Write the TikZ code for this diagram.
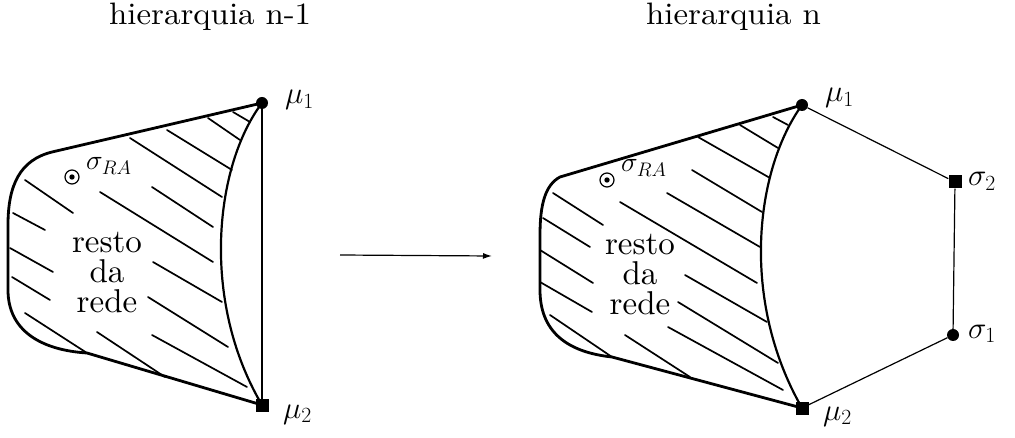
\RequirePackage{fix-cm}
\documentclass[tikz,border=0pt]{standalone}
\usepackage{graphicx}
\usetikzlibrary{arrows.meta}
% Latin Modern Roman at its 10pt design size, used at every size
\DeclareFontFamily{TU}{lmten}{}
\DeclareFontShape{TU}{lmten}{m}{n}{<-> \UnicodeFontFile{lmroman10-regular}{\UnicodeFontTeXLigatures}}{}
\newcommand\tenfont[2]{\fontfamily{lmten}\fontsize{#1}{#2}\selectfont}
\begin{document}
\begin{tikzpicture}[x=1pt,y=-1pt,
  outline/.style={line width=2.8pt,line join=round,line cap=round},
  hatch/.style={line width=1.7pt,line cap=round},
  edge/.style={line width=1.2pt},
  dotnode/.style={circle,fill=black,inner sep=0pt,minimum size=12pt},
  sqnode/.style={rectangle,fill=black,inner sep=0pt,minimum size=13pt},
  lbl/.style={inner sep=0pt,anchor=base west,font=\fontsize{31}{34}\selectfont},
  ralbl/.style={inner sep=0pt,anchor=base west,font=\fontsize{28}{30}\selectfont},
  body/.style={inner sep=0pt,anchor=base,font=\tenfont{33}{34}},
  title/.style={inner sep=0pt,anchor=base west,font=\tenfont{31}{34}},
  odot/.style={circle,draw,line width=1.2pt,minimum size=14pt,inner sep=0pt}]
\useasboundingbox (0,0) rectangle (1015,438);

% titles
\node[title] (t1) at (109,25) {\scalebox{1.06}[1]{hierarquia n-1}};
\node[title] (t2) at (646,25) {\scalebox{1.06}[1]{hierarquia n}};

% ---------- left network ----------
\coordinate (m1a) at (262,103);
\coordinate (m2a) at (262,405);
\draw[edge] (m1a) -- (m2a);
\draw[outline] (m1a) -- (52,152) .. controls (20,160) and (8,185) .. (8,225)
  -- (8,290) .. controls (8,330) and (40,350) .. (87,353) -- (m2a);
\draw[outline,line width=2.2pt] (m1a) .. controls (215,165) and (200,300) .. (m2a);
\foreach \xa/\ya/\xb/\yb in {233/112/250/122, 208/118/240/140, 167/130/232/170,
  130/138/222/197, 152/187/213/227, 100/192/213/262, 25/180/73/213,
  13/213/45/230, 10/248/53/272, 12/277/50/300, 153/262/222/302,
  148/297/228/347, 152/335/247/387, 97/332/165/377, 25/313/87/353}
  \draw[hatch] (\xa,\ya) -- (\xb,\yb);
\node[body] (ra1) at (107,253) {resto};
\node[body] (ra2) at (107,283) {da};
\node[body] (ra3) at (107,313) {rede};
\node[odot] (oa) at (72,177) {};
\fill (oa) circle (2.7pt);
\node[ralbl] (sa) at (86,170) {$\sigma_{RA}$};
\node[dotnode] (mu1a) at (m1a) {};
\node[sqnode] (mu2a) at (m2a) {};
\node[lbl] (lm1a) at (285,104) {$\mu_1$};
\node[lbl] (lm2a) at (283,418) {$\mu_2$};

% transition arrow
\coordinate (ar1) at (340,255);
\coordinate (ar2) at (492,256);
\draw[edge,-{Latex[length=9pt,width=6pt]}] (ar1) -- (ar2);

% ---------- right network ----------
\coordinate (m1b) at (802,105);
\coordinate (m2b) at (802,408);
\draw[outline] (m1b) -- (560,177) .. controls (545,185) and (540,205) .. (540,235)
  -- (540,290) .. controls (540,330) and (565,352) .. (612,357) -- (m2b);
\draw[outline,line width=2.2pt] (m1b) .. controls (755,170) and (740,300) .. (m2b);
\foreach \xa/\ya/\xb/\yb in {773/117/788/125, 740/125/778/148, 698/137/770/178,
  692/170/762/212, 667/193/760/247, 620/202/757/283, 553/193/603/225,
  543/218/590/247, 540/250/593/283, 540/282/592/312, 685/275/767/322,
  678/302/778/363, 668/327/783/390, 625/335/690/377, 550/315/612/357}
  \draw[hatch] (\xa,\ya) -- (\xb,\yb);
\node[body] (rb1) at (640,255) {resto};
\node[body] (rb2) at (640,285) {da};
\node[body] (rb3) at (640,315) {rede};
\node[odot] (ob) at (607,180) {};
\fill (ob) circle (2.7pt);
\node[ralbl] (sb) at (621,172) {$\sigma_{RA}$};

\node[dotnode] (mu1b) at (m1b) {};
\node[sqnode] (mu2b) at (m2b) {};
\node[sqnode] (s2) at (955,182) {};
\node[dotnode] (s1) at (953,335) {};
\draw[edge] (mu1b) -- (s2) -- (s1) -- (mu2b);
\node[lbl] (lm1b) at (825,102) {$\mu_1$};
\node[lbl] (lm2b) at (823,420) {$\mu_2$};
\node[lbl] (ls2) at (968,186) {$\sigma_2$};
\node[lbl] (ls1) at (968,338) {$\sigma_1$};
\end{tikzpicture}
\end{document}
